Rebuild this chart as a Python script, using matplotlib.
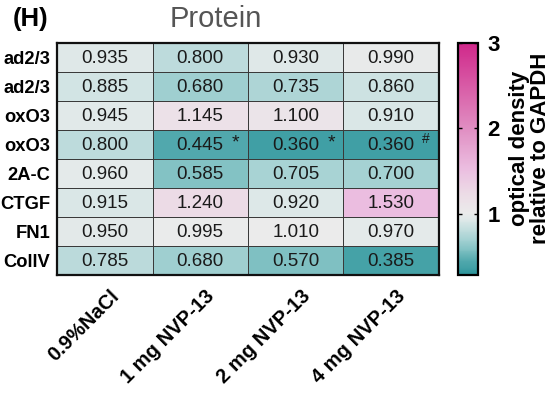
import numpy as np
import matplotlib
matplotlib.use("Agg")
import matplotlib.pyplot as plt
from matplotlib.colors import LinearSegmentedColormap, Normalize

plt.rcParams['font.family'] = ['Liberation Sans', 'DejaVu Sans']

rows = ["ad2/3", "ad2/3", "oxO3", "oxO3", "2A-C", "CTGF", "FN1", "CollV"]
cols = ["0.9%NaCl", "1 mg NVP-13", "2 mg NVP-13", "4 mg NVP-13"]
values = np.array([
    [0.935, 0.800, 0.930, 0.990],
    [0.885, 0.680, 0.735, 0.860],
    [0.945, 1.145, 1.100, 0.910],
    [0.800, 0.445, 0.360, 0.360],
    [0.960, 0.585, 0.705, 0.700],
    [0.915, 1.240, 0.920, 1.530],
    [0.950, 0.995, 1.010, 0.970],
    [0.785, 0.680, 0.570, 0.385],
])
marks = {(3, 1): "*", (3, 2): "*", (3, 3): "#"}

vmin, vmax = 0.28, 3.0
cmap_stops = [(0.28, "#2a9298"), (0.36, "#42a0a6"), (0.445, "#52a9ad"),
              (0.585, "#85c3c5"), (0.705, "#a8d3d4"), (0.92, "#dde8e8"),
              (1.0, "#ebebeb"), (1.24, "#ecdbe6"), (1.53, "#ebbde0"),
              (2.0, "#e08ec2"), (3.0, "#d0288a")]
cmap = LinearSegmentedColormap.from_list(
    "tm", [((v - vmin) / (vmax - vmin), c) for v, c in cmap_stops])
norm = Normalize(vmin=vmin, vmax=vmax)

fig = plt.figure(figsize=(5.57, 3.93), dpi=100)
ax = fig.add_axes([57/557, 1-275/393, (439-57)/557, (275-43)/393])
nr, nc = values.shape
mesh = ax.pcolormesh(np.arange(nc+1), np.arange(nr+1), values, cmap=cmap, norm=norm,
                     edgecolors="#3a3a3a", linewidth=0.7)
ax.set_xlim(0, nc)
ax.set_ylim(nr, 0)
for i in range(nr):
    for j in range(nc):
        ax.text(j+0.5, i+0.52, f"{values[i, j]:.3f}", ha="center", va="center",
                fontsize=13.5, color="#1a1a1a")
        m = marks.get((i, j))
        if m == "*":
            ax.text(j+0.87, i+0.45, m, ha="center", va="center", fontsize=14, color="#1a1a1a")
        elif m == "#":
            ax.text(j+0.86, i+0.3, m, ha="center", va="center", fontsize=10, color="#1a1a1a")

ax.set_yticks(np.arange(nr)+0.5)
ax.set_yticklabels(rows, fontsize=13.2, fontweight="bold")
ax.set_xticks(np.arange(nc)+0.55)
ax.set_xticklabels(cols, fontsize=14.5, fontweight="bold", rotation=45, ha="right",
                   rotation_mode="anchor")
ax.tick_params(length=0, pad=5)
ax.tick_params(axis="x", pad=8)
for s in ax.spines.values():
    s.set_linewidth(1.6)
    s.set_color("#111111")

fig.text(216/557, 1-19/393, "Protein", ha="center", va="center",
         fontsize=21, color="#555555")
fig.text(13/557, 1-19/393, "(H)", ha="left", va="center", fontsize=18.5, fontweight="bold")

cax = fig.add_axes([458/557, 1-275/393, 20/557, (275-43)/393])
cb = fig.colorbar(mesh, cax=cax)
cb.set_ticks([1, 2, 3])
cb.ax.tick_params(direction="in", left=True, right=True, length=3, width=1,
                  labelsize=16, pad=7)
for t in cb.ax.get_yticklabels():
    t.set_fontweight("bold")
cb.outline.set_linewidth(1.6)
fig.text(530/557, 1-148/393, "optical density\nrelative to GAPDH", rotation=90,
         ha="center", va="center", multialignment="center", fontsize=16,
         fontweight="bold", linespacing=1.0)

fig.savefig("out.png", dpi=100)
